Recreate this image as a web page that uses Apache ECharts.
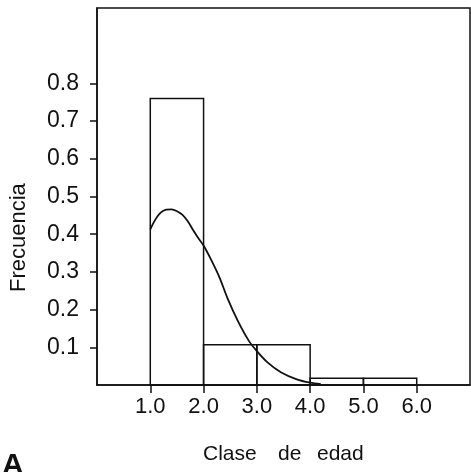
<!DOCTYPE html>
<html><head><meta charset="utf-8">
<script src="https://cdn.jsdelivr.net/npm/echarts@6/dist/echarts.min.js"></script>
<style>html,body{margin:0;padding:0;background:#fff}#c{width:471px;height:472px}</style>
</head><body><div id="c"></div>
<script>
const binStart = [1, 2, 3, 4, 5];
const binEnd = [2, 3, 4, 5, 6];
const binFreq = [0.76, 0.107, 0.107, 0.018, 0.018];
const curveX = [1.0, 1.1, 1.2, 1.3, 1.4, 1.5, 1.6, 1.7, 1.8, 1.9, 2.0, 2.15, 2.3, 2.45, 2.65, 2.85, 3.0, 3.2, 3.45, 3.75, 4.0, 4.2];
const curveY = [0.413, 0.44, 0.458, 0.465, 0.466, 0.461, 0.452, 0.435, 0.412, 0.39, 0.37, 0.33, 0.285, 0.23, 0.168, 0.117, 0.09, 0.06, 0.034, 0.015, 0.006, 0.002];
const xTicks = [1, 2, 3, 4, 5, 6];
const xTickLabels = ['1.0', '2.0', '3.0', '4.0', '5.0', '6.0'];
const yTicks = [0.1, 0.2, 0.3, 0.4, 0.5, 0.6, 0.7, 0.8];
const yTickLabels = ['0.1', '0.2', '0.3', '0.4', '0.5', '0.6', '0.7', '0.8'];
const xTitleWords = ['Clase', 'de', 'edad'];
const yTitle = 'Frecuencia';
const panelLetter = 'A';

const chart = echarts.init(document.getElementById('c'), null, {renderer: 'canvas'});
const font = 'Liberation Sans, Arial, sans-serif';
chart.setOption({
  backgroundColor: '#fff',
  animation: false,
  grid: {left: 97, right: 1, top: 8, bottom: 87, show: true, borderColor: '#111', borderWidth: 1.5},
  xAxis: {
    type: 'value', min: 0, max: 7,
    axisLine: {show: true, onZero: false, lineStyle: {color: '#111', width: 1.5}},
    axisTick: {show: true, length: 8, customValues: xTicks, lineStyle: {color: '#111', width: 1.5}},
    axisLabel: {show: true, customValues: xTicks, margin: 11, fontSize: 22, color: '#111', fontFamily: font,
      formatter: v => xTickLabels[xTicks.indexOf(Math.round(v))] || ''},
    splitLine: {show: false}
  },
  yAxis: {
    type: 'value', min: 0, max: 1.0,
    axisLine: {show: true, lineStyle: {color: '#111', width: 1.5}},
    axisTick: {show: true, length: 7, customValues: yTicks, lineStyle: {color: '#111', width: 1.5}},
    axisLabel: {show: true, customValues: yTicks, margin: 18, fontSize: 23, color: '#111', fontFamily: font,
      formatter: v => yTickLabels[yTicks.findIndex(t => Math.abs(t - v) < 1e-6)] || ''},
    splitLine: {show: false}
  },
  series: [
    {
      type: 'custom',
      data: binStart.map((s, i) => [s, binEnd[i], binFreq[i]]),
      renderItem: function (params, api) {
        const p0 = api.coord([api.value(0), api.value(2)]);
        const p1 = api.coord([api.value(1), 0]);
        return {
          type: 'rect',
          shape: {x: p0[0], y: p0[1], width: p1[0] - p0[0], height: p1[1] - p0[1]},
          style: {fill: 'none', stroke: '#111', lineWidth: 1.5}
        };
      },
      encode: {x: [0, 1], y: 2}
    },
    {
      type: 'line',
      data: curveX.map((x, i) => [x, curveY[i]]),
      smooth: 0.3,
      showSymbol: false,
      lineStyle: {color: '#111', width: 1.8}
    }
  ],
  graphic: [
    {type: 'text', left: 203, top: 444, style: {text: xTitleWords[0], font: '21px ' + font, fill: '#111'}},
    {type: 'text', left: 278, top: 444, style: {text: xTitleWords[1], font: '21px ' + font, fill: '#111'}},
    {type: 'text', left: 317, top: 444, style: {text: xTitleWords[2], font: '21px ' + font, fill: '#111'}},
    {type: 'text', x: 8, y: 292, rotation: Math.PI / 2, style: {text: yTitle, font: '22px ' + font, fill: '#111'}},
    {type: 'text', left: 2, top: 451, style: {text: panelLetter, font: 'bold 30px ' + font, fill: '#111'}}
  ]
});
</script></body></html>
